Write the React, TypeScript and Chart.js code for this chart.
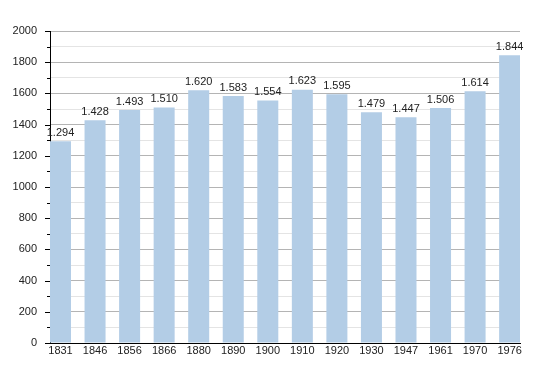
import React, { useEffect, useRef } from "react";
import { Chart, registerables } from "chart.js";

Chart.register(...registerables);

const years = ["1831", "1846", "1856", "1866", "1880", "1890", "1900", "1910", "1920", "1930", "1947", "1961", "1970", "1976"];
const population = [1294, 1428, 1493, 1510, 1620, 1583, 1554, 1623, 1595, 1479, 1447, 1506, 1614, 1844];
const yTickValues = [0, 200, 400, 600, 800, 1000, 1200, 1400, 1600, 1800, 2000];

const FONT = "'Liberation Sans', Arial, sans-serif";

function fmt(v: number): string {
  return String(v).replace(/\B(?=(\d{3})+(?!\d))/g, ".");
}

const labelPlugin = {
  id: "barLabels",
  afterDatasetsDraw(chart: any) {
    const ctx = chart.ctx;
    const meta = chart.getDatasetMeta(0);
    ctx.save();
    ctx.font = `11px ${FONT}`;
    ctx.fillStyle = "#222";
    ctx.textAlign = "center";
    ctx.textBaseline = "bottom";
    meta.data.forEach((bar: any, i: number) => {
      ctx.fillText(fmt(population[i]), bar.x, bar.y - 3);
    });
    ctx.restore();
  },
};

const tickPlugin = {
  id: "yTicks",
  afterDraw(chart: any) {
    const ctx = chart.ctx;
    const y = chart.scales.y;
    const left = chart.chartArea.left;
    ctx.save();
    ctx.strokeStyle = "#000";
    ctx.lineWidth = 1;
    y.ticks.forEach((t: any) => {
      const py = Math.round(y.getPixelForValue(t.value)) + 0.5;
      const len = yTickValues.includes(t.value) ? 5 : 3;
      ctx.beginPath();
      ctx.moveTo(left - len, py);
      ctx.lineTo(left, py);
      ctx.stroke();
    });
    ctx.restore();
  },
};

export default function App() {
  const ref = useRef<HTMLCanvasElement>(null);
  useEffect(() => {
    if (!ref.current) return;
    const chart = new Chart(ref.current, {
      type: "bar",
      data: {
        datasets: [
          {
            data: population.map((v, i) => ({ x: i, y: v })),
            backgroundColor: "#b3cde6",
            borderWidth: 0,
            barPercentage: 0.608,
            categoryPercentage: 1,
          },
        ],
      },
      options: {
        animation: false,
        responsive: false,
        devicePixelRatio: 1,
        layout: { padding: { top: 31, right: 30, left: 0, bottom: 0 } },
        plugins: { legend: { display: false }, tooltip: { enabled: false } },
        scales: {
          x: {
            type: "linear",
            offset: false,
            min: -0.304,
            max: 13.3,
            afterFit: (s: any) => { s.height = 30; },
            afterBuildTicks: (s: any) => {
              s.ticks = years.map((_, i) => ({ value: i }));
            },
            grid: { display: false, drawTicks: false },
            border: { color: "#000", width: 1 },
            ticks: {
              autoSkip: false,
              maxRotation: 0,
              padding: 1,
              color: "#222",
              font: { family: FONT, size: 11 },
              callback: (v: any) => years[Math.round(v)] ?? "",
            },
          },
          y: {
            min: 0,
            max: 2000,
            afterFit: (s: any) => { s.width = 50; },
            grid: {
              drawTicks: false,
              color: (c: any) => (c.tick && yTickValues.includes(c.tick.value) ? "#b4b4b4" : "#e4e4e4"),
            },
            border: { color: "#000", width: 1 },
            ticks: {
              stepSize: 100,
              maxTicksLimit: 50,
              autoSkip: false,
              padding: 13,
              color: "#222",
              font: { family: FONT, size: 11 },
              callback: (v: any) => (yTickValues.includes(v) ? String(v) : ""),
            },
          },
        },
      },
      plugins: [labelPlugin, tickPlugin],
    });
    return () => chart.destroy();
  }, []);
  return (
    <div style={{ position: "fixed", left: 0, top: 0, width: 550, height: 373, background: "#fff" }}>
      <canvas ref={ref} width={550} height={373} />
    </div>
  );
}
